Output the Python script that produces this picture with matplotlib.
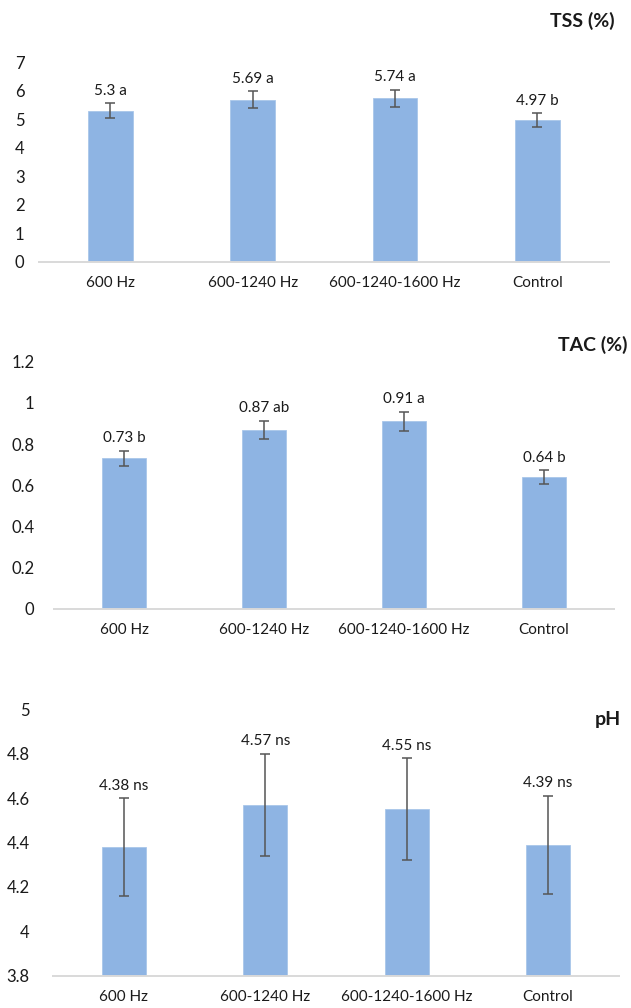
import matplotlib
matplotlib.use("Agg")
import matplotlib.pyplot as plt
import numpy as np

plt.rcParams['font.family'] = ['Lato', 'DejaVu Sans']

categories = ["600 Hz", "600-1240 Hz", "600-1240-1600 Hz", "Control"]

tss_values = [5.30, 5.69, 5.74, 4.97]
tss_errors = [0.27, 0.30, 0.30, 0.25]
tss_labels = ["5.3 a", "5.69 a", "5.74 a", "4.97 b"]
tss_ticks = [0, 1, 2, 3, 4, 5, 6, 7]

tac_values = [0.73, 0.87, 0.91, 0.64]
tac_errors = [0.037, 0.044, 0.047, 0.033]
tac_labels = ["0.73 b", "0.87 ab", "0.91 a", "0.64 b"]
tac_ticks = [0, 0.2, 0.4, 0.6, 0.8, 1.0, 1.2]
tac_ticklabels = ["0", "0.2", "0.4", "0.6", "0.8", "1", "1.2"]

ph_values = [4.38, 4.57, 4.55, 4.39]
ph_errors = [0.22, 0.23, 0.23, 0.22]
ph_labels = ["4.38 ns", "4.57 ns", "4.55 ns", "4.39 ns"]
ph_ticks = [3.8, 4.0, 4.2, 4.4, 4.6, 4.8, 5.0]
ph_ticklabels = ["3.8", "4", "4.2", "4.4", "4.6", "4.8", "5"]

W, H = 631, 1008
fig = plt.figure(figsize=(W / 100, H / 100), dpi=100)

BAR = "#8EB4E3"
ERR = "#555555"
AXC = "#D9D9D9"
TXT = "#1a1a1a"


def panel(rect, values, errors, labels, ticks, ticklabels, ylim, ypad):
    ax = fig.add_axes(rect)
    x = np.arange(len(categories))
    ax.bar(x, values, width=0.313, color=BAR, edgecolor="#A9C6EA", linewidth=0.6,
           zorder=2)
    ax.errorbar(x, values, yerr=errors, fmt="none", ecolor=ERR, elinewidth=1.1,
                capsize=3.8, capthick=1.1, zorder=3)
    for xi, v, e, lab in zip(x, values, errors, labels):
        ax.annotate(lab, (xi, v + e), xytext=(0, 9), textcoords="offset points",
                    ha="center", va="center", fontsize=11, color=TXT)
    ax.set_xlim(-0.5, len(categories) - 0.5)
    ax.set_ylim(*ylim)
    ax.set_xticks(x)
    ax.set_xticklabels(categories, fontsize=11, color=TXT)
    ax.set_yticks(ticks)
    ax.set_yticklabels(ticklabels, fontsize=12, color=TXT)
    ax.tick_params(axis="both", length=0)
    ax.tick_params(axis="x", pad=10.5)
    ax.tick_params(axis="y", pad=ypad)
    for s in ["top", "right", "left"]:
        ax.spines[s].set_visible(False)
    ax.spines["bottom"].set_color(AXC)
    ax.spines["bottom"].set_linewidth(1.4)
    ax.spines["bottom"].set_zorder(4)
    return ax


def rect(x0, x1, ytop, ybot):
    return [x0 / W, 1 - ybot / H, (x1 - x0) / W, (ybot - ytop) / H]


panel(rect(39, 608.7, 62.3, 261.7), tss_values, tss_errors, tss_labels,
      tss_ticks, [str(t) for t in tss_ticks], (0, 7), 10.5)
panel(rect(54, 614, 361.7, 608.7), tac_values, tac_errors, tac_labels,
      tac_ticks, tac_ticklabels, (0, 1.2), 14)
panel(rect(53.3, 618.7, 709.3, 975.7), ph_values, ph_errors, ph_labels,
      ph_ticks, ph_ticklabels, (3.8, 5.0), 17)

fig.text(615 / W, 1 - 20.7 / H, "TSS (%)", ha="right", va="center",
         fontsize=14, fontweight="bold", color=TXT)
fig.text(627.7 / W, 1 - 345 / H, "TAC (%)", ha="right", va="center",
         fontsize=14, fontweight="bold", color=TXT)
fig.text(620.7 / W, 1 - 720 / H, "pH", ha="right", va="center",
         fontsize=14, fontweight="bold", color=TXT)

fig.savefig("out.png", dpi=100, facecolor="white")
